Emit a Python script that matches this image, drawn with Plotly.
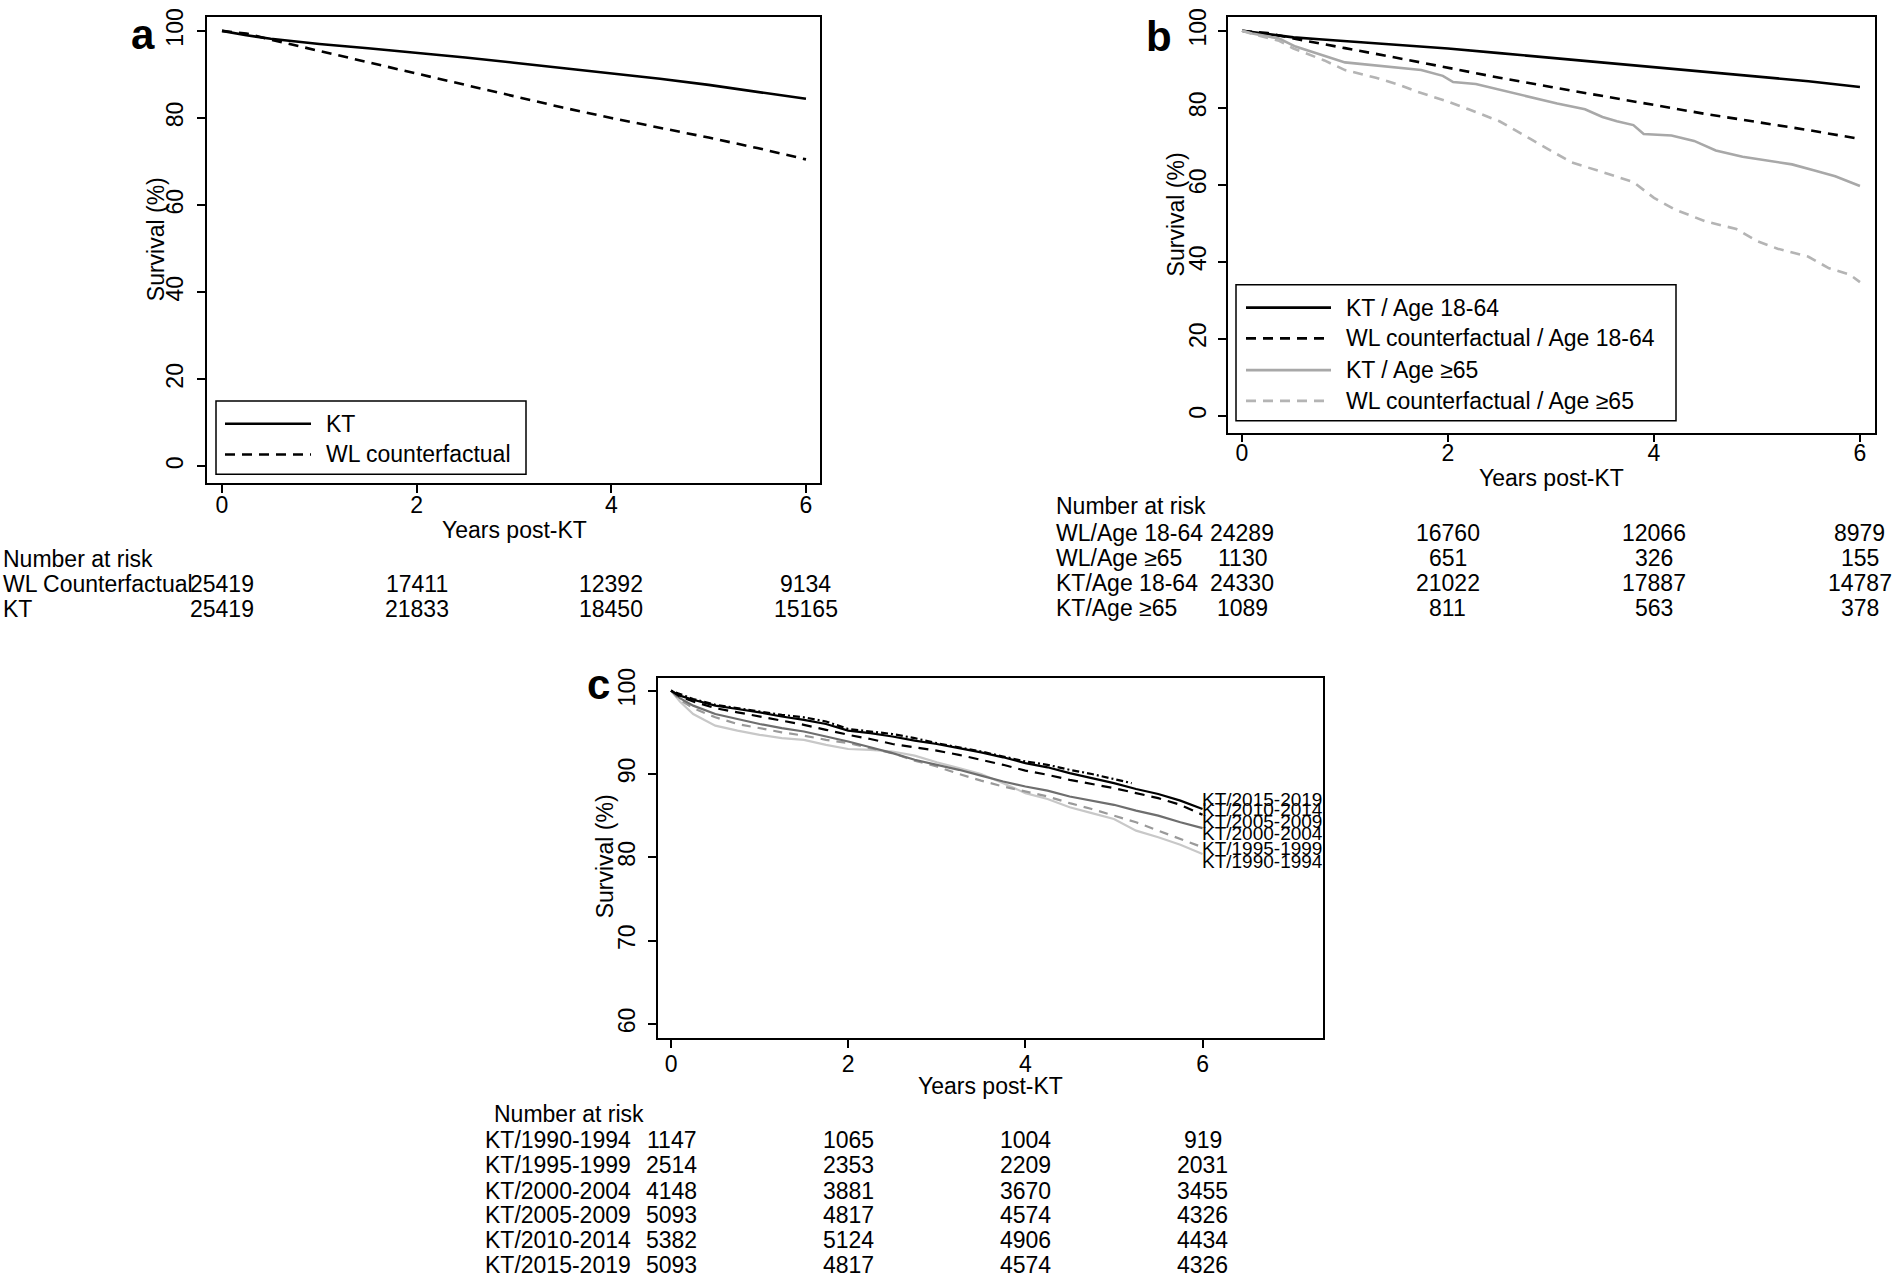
import plotly.graph_objects as go

W, H = 1895, 1277
FONT = "Liberation Sans, Arial, sans-serif"
BOLD = "Liberation Sans, Arial, sans-serif"

# ---------------- Panel a data ----------------
t_a = [0, 0.25, 0.5, 0.75, 1, 1.5, 2, 2.5, 3, 3.5, 4, 4.5, 5, 5.5, 6]
kt_a = [100, 99.0, 98.2, 97.6, 97.0, 96.0, 95.0, 93.9, 92.7, 91.5, 90.2, 89.0, 87.6, 86.0, 84.4]
wl_a = [100, 99.4, 98.0, 96.7, 95.4, 92.8, 90.2, 87.6, 85.0, 82.4, 80.0, 77.8, 75.5, 73.1, 70.5]
risk_a_labels = ["WL Counterfactual", "KT"]
risk_a = [[25419, 17411, 12392, 9134], [25419, 21833, 18450, 15165]]

# ---------------- Panel b data ----------------
t_b = [0, 0.25, 0.5, 0.75, 1, 1.5, 2, 2.5, 3, 3.5, 4, 4.5, 5, 5.5, 6]
kt_young = [100, 99.1, 98.3, 97.8, 97.3, 96.3, 95.4, 94.2, 93.0, 91.8, 90.6, 89.4, 88.2, 86.9, 85.4]
wl_young = [100, 99.4, 98.0, 96.8, 95.5, 93.0, 90.4, 87.8, 85.4, 83.0, 80.7, 78.4, 76.3, 74.2, 71.9]
t_kt_old = [0, 0.1, 0.36, 0.52, 1.0, 1.47, 1.74, 1.95, 2.05, 2.27, 2.5, 2.8, 3.06, 3.33, 3.5, 3.64,
            3.8, 3.9, 4.17, 4.39, 4.6, 4.86, 5.07, 5.34, 5.55, 5.76, 6.0]
kt_old = [100, 99.3, 98.0, 95.9, 91.8, 90.5, 89.8, 88.3, 86.7, 86.2, 84.7, 82.7, 81.1, 79.6, 77.6, 76.5,
          75.5, 73.2, 72.8, 71.4, 68.9, 67.3, 66.5, 65.3, 63.8, 62.2, 59.7]
t_wl_old = [0, 0.1, 0.36, 0.5, 0.8, 1.0, 1.3, 1.5, 1.7, 2.0, 2.2, 2.5, 2.8, 3.0, 3.2, 3.5, 3.8, 4.0,
            4.2, 4.5, 4.8, 5.0, 5.2, 5.5, 5.7, 5.9, 6.0]
wl_old = [100, 99.2, 97.4, 95.4, 92.3, 89.8, 87.8, 86.2, 84.2, 81.6, 79.6, 76.5, 71.9, 68.9, 65.8, 63.3,
          60.7, 56.6, 53.6, 50.5, 48.5, 45.4, 43.4, 41.3, 38.3, 36.7, 34.7]
risk_b_labels = ["WL/Age 18-64", "WL/Age \u226565", "KT/Age 18-64", "KT/Age \u226565"]
risk_b = [[24289, 16760, 12066, 8979], [1130, 651, 326, 155],
          [24330, 21022, 17887, 14787], [1089, 811, 563, 378]]

# ---------------- Panel c data ----------------
t_c = [0, 0.1, 0.25, 0.5, 0.75, 1.0, 1.25, 1.5, 1.75, 2.0, 2.25, 2.5, 2.75, 3.0, 3.25, 3.5,
       3.75, 4.0, 4.25, 4.5, 4.75, 5.0, 5.25, 5.5, 5.75, 6.0]
kt_1990 = [100, 98.7, 97.2, 95.8, 95.2, 94.7, 94.3, 94.1, 93.5, 93.0, 92.9, 92.7, 92.2, 91.4, 90.7, 90.0,
           88.9, 87.7, 87.0, 86.0, 85.3, 84.6, 83.2, 82.4, 81.5, 80.4]
kt_1995 = [100, 98.9, 97.9, 96.8, 96.0, 95.5, 95.0, 94.6, 94.1, 93.7, 93.1, 92.5, 91.6, 90.9, 90.0, 89.2,
           88.5, 87.9, 87.3, 86.5, 85.8, 85.0, 84.2, 83.2, 82.2, 81.2]
kt_2000 = [100, 99.1, 98.2, 97.2, 96.6, 96.0, 95.5, 95.1, 94.5, 93.9, 93.2, 92.5, 91.7, 91.1, 90.5, 89.8,
           89.1, 88.5, 88.0, 87.3, 86.8, 86.3, 85.6, 85.0, 84.2, 83.5]
kt_2005 = [100, 99.3, 98.7, 97.9, 97.4, 96.9, 96.4, 95.9, 95.3, 94.7, 94.2, 93.6, 93.2, 92.8, 92.3, 91.7,
           91.1, 90.4, 89.9, 89.3, 88.8, 88.3, 87.7, 87.1, 86.3, 85.1]
kt_2010 = [100, 99.4, 98.9, 98.2, 97.8, 97.4, 96.9, 96.5, 96.0, 95.2, 94.9, 94.5, 94.0, 93.6, 93.1, 92.6,
           92.0, 91.3, 90.8, 90.1, 89.5, 88.9, 88.2, 87.6, 86.8, 85.8]
t_c15 = [0, 0.25, 0.5, 0.75, 1.0, 1.25, 1.5, 1.75, 2.0, 2.25, 2.5, 2.75, 3.0, 3.25, 3.5, 3.75, 4.0,
         4.25, 4.5, 4.75, 5.0, 5.2]
kt_2015 = [100, 99.0, 98.3, 97.9, 97.5, 97.1, 96.8, 96.3, 95.4, 95.1, 94.8, 94.3, 93.7, 93.2, 92.7,
           92.1, 91.5, 91.1, 90.5, 90.0, 89.4, 88.9]
c_labels = ["KT/2015-2019", "KT/2010-2014", "KT/2005-2009", "KT/2000-2004", "KT/1995-1999", "KT/1990-1994"]
c_label_y = [86.9, 85.7, 84.3, 82.9, 81.1, 79.5]
risk_c_labels = ["KT/1990-1994", "KT/1995-1999", "KT/2000-2004", "KT/2005-2009", "KT/2010-2014", "KT/2015-2019"]
risk_c = [[1147, 1065, 1004, 919], [2514, 2353, 2209, 2031], [4148, 3881, 3670, 3455],
          [5093, 4817, 4574, 4326], [5382, 5124, 4906, 4434], [5093, 4817, 4574, 4326]]
risk_times = [0, 2, 4, 6]


def px(x):
    return x / W


def py(y):
    return 1 - y / H


fig = go.Figure()


def add(x, y, ax, color, dash="solid", width=2.6):
    fig.add_trace(go.Scatter(x=x, y=y, mode="lines", xaxis=ax[0], yaxis=ax[1],
                             line=dict(color=color, dash=dash, width=width),
                             showlegend=False, hoverinfo="skip"))


DASH = "10px,7px"
add(t_a, kt_a, ("x", "y"), "black")
add(t_a, wl_a, ("x", "y"), "black", DASH)

add(t_b, kt_young, ("x2", "y2"), "black")
add(t_b, wl_young, ("x2", "y2"), "black", DASH)
add(t_kt_old, kt_old, ("x2", "y2"), "#a8a8a8")
add(t_wl_old, wl_old, ("x2", "y2"), "#b4b4b4", DASH)

add(t_c, kt_1990, ("x3", "y3"), "#c8c8c8", width=2.2)
add(t_c, kt_1995, ("x3", "y3"), "#9a9a9a", "9px,7px", width=2.2)
add(t_c, kt_2000, ("x3", "y3"), "#6e6e6e", width=2.2)
add(t_c, kt_2005, ("x3", "y3"), "black", "10px,7px", width=2.2)
add(t_c15, kt_2015, ("x3", "y3"), "black", "2px,3px,7px,3px", width=2.2)
add(t_c, kt_2010, ("x3", "y3"), "black", width=2.2)

TICKFONT = 23


def axis_common():
    return dict(showline=True, linecolor="black", linewidth=1.5, mirror=True,
                ticks="outside", ticklen=8, tickwidth=1.5, tickcolor="black",
                showgrid=False, zeroline=False,
                tickfont=dict(family=FONT, size=TICKFONT, color="black"))


def frame(x0, x1, y0, y1):
    return [px(x0), px(x1)], [py(y1), py(y0)]


dxa, dya = frame(207, 820, 7, 477)
dxb, dyb = frame(1228, 1875, 7, 426)
dxc, dyc = frame(658, 1323, 673, 1036)

fig.update_layout(
    width=W, height=H, margin=dict(l=0, r=0, t=0, b=0),
    paper_bgcolor="white", plot_bgcolor="white", showlegend=False,
    xaxis=dict(domain=dxa, range=[-0.154, 6.144], anchor="y", tickvals=[0, 2, 4, 6],
               ticklabelstandoff=-8, **axis_common()),
    yaxis=dict(domain=dya, range=[-3.87, 103.2], anchor="x", tickvals=[0, 20, 40, 60, 80, 100],
               tickangle=-90, ticklabelstandoff=5, **axis_common()),
    xaxis2=dict(domain=dxb, range=[-0.136, 6.146], anchor="y2", tickvals=[0, 2, 4, 6],
                ticklabelstandoff=-9, **axis_common()),
    yaxis2=dict(domain=dyb, range=[-4.4, 103.6], anchor="x2", tickvals=[0, 20, 40, 60, 80, 100],
                tickangle=-90, ticklabelstandoff=3, **axis_common()),
    xaxis3=dict(domain=dxc, range=[-0.147, 7.36], anchor="y3", tickvals=[0, 2, 4, 6],
                ticklabelstandoff=-3, **axis_common()),
    yaxis3=dict(domain=dyc, range=[58.33, 101.55], anchor="x3", tickvals=[60, 70, 80, 90, 100],
                tickangle=-90, ticklabelstandoff=4, **axis_common()),
)

ann = []
shapes = []


def text(x, y, s, size=23, xanchor="center", angle=0, family=FONT, xref="paper", bold=False):
    ann.append(dict(x=x, y=py(y), xref=xref, yref="paper", text=("<b>%s</b>" % s) if bold else s,
                    showarrow=False, xanchor=xanchor, yanchor="middle", textangle=angle,
                    font=dict(family=family, size=size, color="black")))


# axis titles
text(px(514), 524, "Years post-KT", 23)
text(px(156), 231, "Survival (%)", 23, angle=-90)
text(px(1551), 472, "Years post-KT", 23)
text(px(1176), 206, "Survival (%)", 23, angle=-90)
text(px(990), 1084, "Years post-KT", 23)
text(px(605), 853, "Survival (%)", 23, angle=-90)

# panel letters
text(px(143), 25, "a", 42, family=BOLD, bold=True)
text(px(1159), 27, "b", 42, family=BOLD, bold=True)
text(px(598), 680, "c", 42, family=BOLD, bold=True)

# panel c end labels
for lab, yv in zip(c_labels, c_label_y):
    ann.append(dict(x=6, y=yv, xref="x3", yref="y3", text=lab, showarrow=False,
                    xanchor="left", yanchor="middle", xshift=-3,
                    font=dict(family=FONT, size=19, color="black")))


# legends
def legend(box, items, line_x, text_x):
    x0, y0, x1, y1 = box
    shapes.append(dict(type="rect", xref="paper", yref="paper", x0=px(x0), x1=px(x1), y0=py(y1), y1=py(y0),
                       line=dict(color="black", width=1.5), fillcolor="white", layer="above"))
    for yy, lab, col, dash in items:
        shapes.append(dict(type="line", xref="paper", yref="paper", x0=px(line_x[0]), x1=px(line_x[1]),
                           y0=py(yy), y1=py(yy), line=dict(color=col, width=2.6, dash=dash)))
        text(px(text_x), yy, lab, 23, xanchor="left")


legend((216, 394, 526, 468),
       [(417, "KT", "black", "solid"), (448, "WL counterfactual", "black", DASH)],
       (225, 311), 324)
legend((1236, 277, 1676, 414),
       [(300, "KT / Age 18-64", "black", "solid"),
        (331, "WL counterfactual / Age 18-64", "black", DASH),
        (363, "KT / Age \u226565", "#a8a8a8", "solid"),
        (394, "WL counterfactual / Age \u226565", "#b4b4b4", DASH)],
       (1246, 1331), 1344)


# number at risk tables
def risk_table(header_xy, label_x, rows_y, labels, values, xref):
    text(px(header_xy[0]), header_xy[1], "Number at risk", 23, xanchor="left")
    for yy, lab, vals in zip(rows_y, labels, values):
        text(px(label_x), yy, lab, 23, xanchor="left")
        for t, v in zip(risk_times, vals):
            text(t, yy, str(v), 23, xref=xref)


risk_table((1, 553), 1, [579, 604], risk_a_labels, risk_a, "x")
risk_table((1054, 500), 1054, [527, 552, 578, 603], risk_b_labels, risk_b, "x2")
risk_table((492, 1113), 483, [1139, 1164, 1190, 1215, 1240, 1265], risk_c_labels, risk_c, "x3")

fig.update_layout(annotations=ann, shapes=shapes)

PIN = ("document.body.style.margin='0px';document.body.style.overflow='hidden';"
       "var gd=document.getElementById('{plot_id}');gd.style.position='absolute';"
       "gd.style.left='0px';gd.style.top='0px';")
fig.write_html("out.html", post_script=PIN, config={"displayModeBar": False})
